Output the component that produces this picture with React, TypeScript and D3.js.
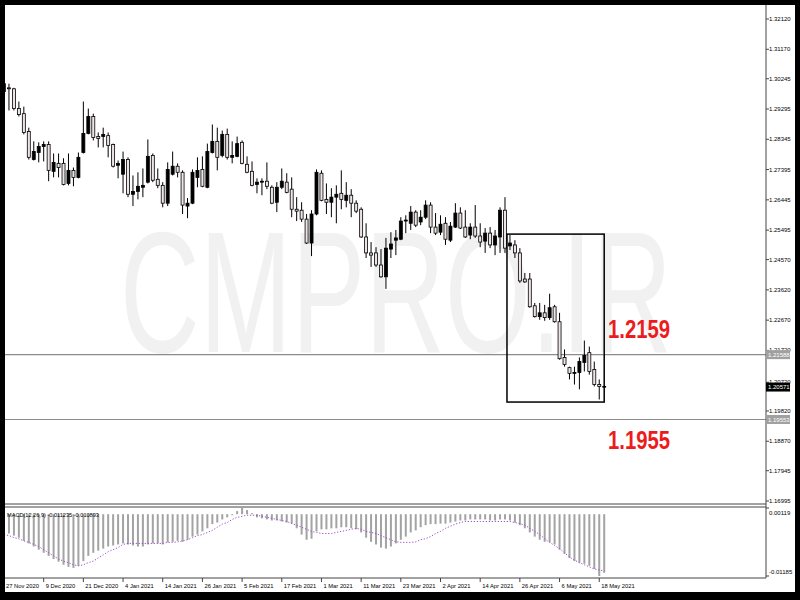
import * as d3 from 'd3';

const W = 800;
const H = 600;

// price axis labels (right side)
const priceTicks = [
  1.3212, 1.3117, 1.30245, 1.29295, 1.28345, 1.27395, 1.26445, 1.25495, 1.2457, 1.2362, 1.2267,
  1.2172, 1.2072, 1.1982, 1.1887, 1.17945, 1.16995,
];
const priceTickText = [
  '1.32120', '1.31170', '1.30245', '1.29295', '1.28345', '1.27395', '1.26445', '1.25495', '1.24570',
  '1.23620', '1.22670', '1.21720', '1.20720', '1.19820', '1.18870', '1.17945', '1.16995',
];

// one label every 8 daily bars
const dateTicks = [
  '27 Nov 2020', '9 Dec 2020', '21 Dec 2020', '4 Jan 2021', '14 Jan 2021', '26 Jan 2021', '5 Feb 2021',
  '17 Feb 2021', '1 Mar 2021', '11 Mar 2021', '23 Mar 2021', '2 Apr 2021', '14 Apr 2021', '26 Apr 2021',
  '6 May 2021', '18 May 2021',
];

const open = [
  1.3009, 1.2996, 1.2993, 1.2931, 1.2915, 1.2859, 1.2771, 1.2793, 1.2812, 1.2818,
  1.2734, 1.2759, 1.2759, 1.2696, 1.2737, 1.2715, 1.2793, 1.2853, 1.2906, 1.2843,
  1.2843, 1.2846, 1.2818, 1.2753, 1.2725, 1.2771, 1.2662, 1.2671, 1.2684, 1.27,
  1.2784, 1.2709, 1.269, 1.2634, 1.2725, 1.275, 1.2731, 1.2625, 1.2634, 1.2715,
  1.274, 1.2684, 1.2793, 1.2828, 1.2784, 1.285, 1.2778, 1.2781, 1.2825, 1.2756,
  1.2734, 1.2693, 1.27, 1.2703, 1.2684, 1.2637, 1.2684, 1.27, 1.2678, 1.2615,
  1.2612, 1.2584, 1.2509, 1.26, 1.2728, 1.2646, 1.2637, 1.2653, 1.2665, 1.2643,
  1.2659, 1.2634, 1.2615, 1.2528, 1.2478, 1.2478, 1.244, 1.2403, 1.249, 1.2518,
  1.2521, 1.2578, 1.2571, 1.2606, 1.2575, 1.259, 1.2628, 1.2559, 1.2543, 1.2571,
  1.2518, 1.2559, 1.2603, 1.2559, 1.2534, 1.2559, 1.2531, 1.2515, 1.254, 1.2503,
  1.2528, 1.2612, 1.25, 1.2503, 1.2478, 1.2396, 1.2396, 1.2312, 1.2278, 1.229,
  1.2275, 1.2309, 1.2262, 1.215, 1.2118, 1.21, 1.2103, 1.2134, 1.2165, 1.2112,
  1.2065, 1.2059,
];
const high = [
  1.3018, 1.3009, 1.2996, 1.2953, 1.2937, 1.2871, 1.2828, 1.2825, 1.2828, 1.2828,
  1.279, 1.279, 1.2775, 1.279, 1.2746, 1.2793, 1.2953, 1.2931, 1.2915, 1.2856,
  1.2871, 1.2856, 1.2821, 1.2768, 1.2796, 1.2778, 1.2721, 1.2731, 1.2743, 1.2834,
  1.279, 1.2743, 1.27, 1.2762, 1.2796, 1.2759, 1.2737, 1.265, 1.274, 1.2778,
  1.2781, 1.2821, 1.2881, 1.2871, 1.2862, 1.2868, 1.2828, 1.2843, 1.2831, 1.2781,
  1.2765, 1.2712, 1.2712, 1.2762, 1.269, 1.27, 1.2743, 1.2728, 1.2715, 1.2653,
  1.2637, 1.26, 1.2612, 1.274, 1.2737, 1.2696, 1.2681, 1.269, 1.2737, 1.27,
  1.2678, 1.2643, 1.2621, 1.2571, 1.2512, 1.2496, 1.249, 1.2525, 1.2543, 1.255,
  1.259, 1.2596, 1.2625, 1.2612, 1.2612, 1.2643, 1.2637, 1.2603, 1.2596, 1.259,
  1.2575, 1.2634, 1.2621, 1.2612, 1.2571, 1.2628, 1.2571, 1.2556, 1.2559, 1.255,
  1.2621, 1.2653, 1.2534, 1.2518, 1.2493, 1.2415, 1.2415, 1.2321, 1.2321, 1.2315,
  1.235, 1.2315, 1.229, 1.2175, 1.2121, 1.2121, 1.215, 1.2203, 1.2184, 1.2137,
  1.2081, 1.2062,
];
const low = [
  1.2971, 1.2925, 1.2925, 1.2906, 1.285, 1.2771, 1.2768, 1.2762, 1.2765, 1.2703,
  1.2715, 1.2715, 1.269, 1.269, 1.2687, 1.2712, 1.279, 1.285, 1.2831, 1.2809,
  1.2809, 1.2778, 1.2746, 1.2712, 1.2665, 1.2653, 1.2625, 1.2646, 1.2653, 1.2696,
  1.27, 1.2681, 1.2621, 1.2625, 1.2721, 1.2715, 1.26, 1.2587, 1.2631, 1.2684,
  1.2684, 1.2681, 1.279, 1.2737, 1.2778, 1.2771, 1.2759, 1.2778, 1.2756, 1.2728,
  1.2687, 1.2665, 1.2659, 1.2678, 1.2631, 1.2606, 1.2678, 1.2665, 1.259, 1.2578,
  1.2575, 1.2506, 1.2468, 1.2596, 1.264, 1.26, 1.259, 1.2571, 1.2615, 1.2621,
  1.259, 1.2603, 1.2525, 1.2462, 1.2434, 1.2434, 1.24, 1.2365, 1.2462, 1.2471,
  1.2518, 1.254, 1.255, 1.2559, 1.2565, 1.2584, 1.254, 1.2534, 1.2534, 1.2503,
  1.2512, 1.2556, 1.2553, 1.2525, 1.2521, 1.2525, 1.2496, 1.2478, 1.2493, 1.2471,
  1.2478, 1.2478, 1.2487, 1.2462, 1.2384, 1.2384, 1.2306, 1.2275, 1.2268, 1.2265,
  1.2268, 1.2259, 1.2143, 1.2121, 1.2081, 1.2065, 1.205, 1.2106, 1.2096, 1.2059,
  1.2018, 1.2056,
];
const close = [
  1.2984, 1.2993, 1.2931, 1.2912, 1.2856, 1.2778, 1.2796, 1.2812, 1.2818, 1.2737,
  1.2762, 1.2746, 1.2693, 1.2737, 1.2715, 1.2778, 1.2853, 1.2906, 1.284, 1.2837,
  1.285, 1.2815, 1.275, 1.2759, 1.2771, 1.2662, 1.2671, 1.2687, 1.269, 1.2781,
  1.2706, 1.269, 1.2634, 1.274, 1.275, 1.2731, 1.2628, 1.2634, 1.2731, 1.2737,
  1.2687, 1.2796, 1.2828, 1.2778, 1.285, 1.2778, 1.2784, 1.2821, 1.2759, 1.2731,
  1.269, 1.27, 1.2703, 1.2687, 1.2634, 1.2684, 1.2703, 1.2668, 1.2615, 1.2609,
  1.2584, 1.2509, 1.26, 1.2731, 1.2643, 1.2637, 1.2653, 1.2662, 1.2646, 1.2659,
  1.2634, 1.2609, 1.2528, 1.2478, 1.2471, 1.244, 1.2403, 1.2493, 1.2506, 1.2525,
  1.2578, 1.2581, 1.2606, 1.2565, 1.259, 1.2628, 1.2559, 1.254, 1.2568, 1.2521,
  1.2562, 1.2603, 1.2556, 1.2528, 1.2559, 1.2531, 1.2512, 1.254, 1.2503, 1.2531,
  1.2612, 1.2493, 1.2509, 1.2478, 1.239, 1.2387, 1.2309, 1.2278, 1.229, 1.2275,
  1.2306, 1.2262, 1.2146, 1.2128, 1.21, 1.2103, 1.2137, 1.2156, 1.2106, 1.2065,
  1.2059, 1.20571,
];

// MACD(12,26,9): main values (histogram) and dotted signal
const macdMain = [
  -0.0035, -0.0037, -0.0041, -0.0045, -0.0051, -0.0056, -0.0062, -0.0068, -0.0074, -0.008,
  -0.0086, -0.0091, -0.0097, -0.0101, -0.0103, -0.0099, -0.009, -0.008, -0.0074, -0.007,
  -0.0066, -0.0062, -0.006, -0.0058, -0.0056, -0.0058, -0.006, -0.0062, -0.0062, -0.0058,
  -0.0056, -0.0056, -0.0058, -0.0054, -0.0053, -0.0051, -0.0053, -0.0049, -0.0043, -0.0039,
  -0.0033, -0.0027, -0.0019, -0.0016, -0.001, -0.0006, -0.0002, 0.0006, 0.0012, 0.0008,
  0.0002, -0.0006, -0.0008, -0.001, -0.0012, -0.0012, -0.0014, -0.0016, -0.0018, -0.0027,
  -0.0039, -0.0049, -0.0047, -0.0033, -0.0029, -0.0029, -0.0027, -0.0027, -0.0025, -0.0025,
  -0.0027, -0.0029, -0.0035, -0.0045, -0.0053, -0.0058, -0.0064, -0.0066, -0.0062, -0.0056,
  -0.0049, -0.0043, -0.0035, -0.0031, -0.0025, -0.0021, -0.0019, -0.0019, -0.0018, -0.0018,
  -0.0016, -0.0014, -0.0012, -0.0012, -0.001, -0.001, -0.001, -0.001, -0.0012, -0.0012,
  -0.001, -0.001, -0.0012, -0.0016, -0.0021, -0.0027, -0.0035, -0.0043, -0.0049, -0.0053,
  -0.0054, -0.0058, -0.0068, -0.0076, -0.0084, -0.009, -0.0093, -0.0095, -0.0099, -0.0105,
  -0.01185, -0.011235,
];
const macdSignal = [
  -0.0039, -0.0041, -0.0045, -0.0047, -0.0051, -0.0054, -0.0058, -0.0062, -0.0068, -0.0074,
  -0.008, -0.0086, -0.009, -0.0093, -0.0097, -0.0099, -0.0097, -0.0093, -0.009, -0.0084,
  -0.0078, -0.0072, -0.0068, -0.0064, -0.0058, -0.0056, -0.0056, -0.0056, -0.0056, -0.0056,
  -0.0056, -0.0056, -0.0056, -0.0054, -0.0054, -0.0053, -0.0051, -0.0049, -0.0045, -0.0041,
  -0.0039, -0.0035, -0.0031, -0.0025, -0.0019, -0.0016, -0.001, -0.0006, -0.0004, -0.0002,
  -0.0002, -0.0002, -0.0004, -0.0006, -0.0008, -0.001, -0.0012, -0.0014, -0.0018, -0.0021,
  -0.0025, -0.0029, -0.0033, -0.0035, -0.0037, -0.0037, -0.0037, -0.0035, -0.0033, -0.0031,
  -0.0029, -0.0027, -0.0029, -0.0033, -0.0035, -0.0037, -0.0041, -0.0045, -0.0049, -0.0053,
  -0.0054, -0.0054, -0.0054, -0.0053, -0.0049, -0.0047, -0.0043, -0.0037, -0.0033, -0.0027,
  -0.0023, -0.0019, -0.0016, -0.0014, -0.0014, -0.0014, -0.0014, -0.0014, -0.0014, -0.0014,
  -0.0014, -0.0014, -0.0014, -0.0016, -0.0018, -0.0021, -0.0027, -0.0033, -0.0039, -0.0047,
  -0.0054, -0.006, -0.0066, -0.0074, -0.0082, -0.0088, -0.0093, -0.0097, -0.0101, -0.0105,
  -0.0107, -0.010893,
];
const macdRange = [-0.01185, 0.00119];
const macdLabel = 'MACD(12,26,9) -0.011235 -0.010893';

// horizontal levels, current price and the drawn box
const levels = [1.21588, 1.19553];
const levelText = ['1.2159', '1.1955'];
const lastPrice = 1.20571;
const boxBars = [101.4, 121];
const boxPrices = [1.201, 1.2537];
const watermark = 'CMPRO.IR';

export default function App() {
  const left = 5;
  const top = 5;
  const plotRight = 766;
  const mainBottom = 504;
  const macdTop = 507;
  const macdBottom = 578;

  const n = open.length;
  const x = d3.scaleLinear().domain([0, 121]).range([4, 604.2]);
  const y = d3.scaleLinear().domain([1.16995, 1.3212]).range([501, 19]);
  const ym = d3.scaleLinear().domain(macdRange).range([576, 508]);

  const signalLine = d3
    .line<number>()
    .x((_, i) => x(i))
    .y((d) => ym(d));

  const font = "'Liberation Sans', Arial, sans-serif";
  const idx = d3.range(n);

  return (
    <svg
      width={W}
      height={H}
      style={{ position: 'absolute', left: 0, top: 0, display: 'block' }}
    >
      <rect x={0} y={0} width={W} height={H} fill="#fff" />

      {/* watermark */}
      <text
        x={120}
        y={352}
        fontSize={172}
        fontFamily={font}
        textLength={552}
        lengthAdjust="spacingAndGlyphs"
        fill="#f1f1f1"
      >
        {watermark}
      </text>

      {/* level lines */}
      {levels.map((v) => (
        <line key={v} x1={left} x2={plotRight} y1={y(v)} y2={y(v)} stroke="#8c8c8c" strokeWidth={1.2} />
      ))}

      {/* candles */}
      {idx.map((i) => {
        const cx = x(i);
        const up = close[i] > open[i];
        const yTop = y(Math.max(open[i], close[i]));
        const yBot = y(Math.min(open[i], close[i]));
        const h = Math.max(yBot - yTop, 0.8);
        return (
          <g key={i}>
            <line x1={cx} x2={cx} y1={y(high[i])} y2={y(low[i])} stroke="#000" strokeWidth={1} />
            <rect
              x={cx - 1.5}
              y={yTop}
              width={3}
              height={h}
              fill={up ? '#000' : '#efe4e4'}
              stroke="#000"
              strokeWidth={0.8}
            />
          </g>
        );
      })}

      {/* box annotation */}
      <rect
        x={x(boxBars[0])}
        y={y(boxPrices[1])}
        width={x(boxBars[1]) - x(boxBars[0])}
        height={y(boxPrices[0]) - y(boxPrices[1])}
        fill="none"
        stroke="#000"
        strokeWidth={1.5}
      />

      {/* red level labels */}
      <text x={608} y={y(levels[0]) - 17} fontSize={26} fontWeight="bold" fontFamily={font}
        textLength={62} lengthAdjust="spacingAndGlyphs" fill="#ec1c1c">
        {levelText[0]}
      </text>
      <text x={608} y={y(levels[1]) + 30} fontSize={26} fontWeight="bold" fontFamily={font}
        textLength={62} lengthAdjust="spacingAndGlyphs" fill="#ec1c1c">
        {levelText[1]}
      </text>

      {/* MACD panel */}
      {idx.map((i) => {
        const v = macdMain[i];
        const y0 = ym(0);
        const y1 = ym(v);
        return (
          <rect
            key={'m' + i}
            x={x(i) - 1}
            y={Math.min(y0, y1)}
            width={2}
            height={Math.max(Math.abs(y1 - y0), 0.6)}
            fill="#a3a3a3"
          />
        );
      })}
      <path
        d={signalLine(macdSignal) ?? ''}
        fill="none"
        stroke="#a24ad0"
        strokeWidth={1}
        strokeDasharray="1.2 1.8"
      />
      <text x={7} y={517} fontSize={5.6} fontFamily={font} fill="#000">
        {macdLabel}
      </text>

      {/* frames */}
      <line x1={left} x2={plotRight} y1={mainBottom} y2={mainBottom} stroke="#444" />
      <line x1={left} x2={plotRight} y1={macdTop} y2={macdTop} stroke="#444" />
      <line x1={left} x2={plotRight} y1={macdBottom} y2={macdBottom} stroke="#444" />
      <line x1={plotRight} x2={plotRight} y1={top} y2={macdBottom} stroke="#444" />

      {/* price axis */}
      {priceTicks.map((v, k) => (
        <g key={'p' + k}>
          <line x1={plotRight} x2={plotRight + 3} y1={y(v)} y2={y(v)} stroke="#444" />
          <text x={plotRight + 3} y={y(v) + 2} fontSize={6} fontFamily={font} fill="#000">
            {priceTickText[k]}
          </text>
        </g>
      ))}
      {levels.map((v) => (
        <g key={'b' + v}>
          <rect x={plotRight} y={y(v) - 4.5} width={24} height={9} fill="#a0a0a0" />
          <text x={plotRight + 2} y={y(v) + 2.2} fontSize={6} fontFamily={font} fill="#fff">
            {v.toFixed(5)}
          </text>
        </g>
      ))}
      <rect x={plotRight} y={y(lastPrice) - 4.5} width={24} height={9} fill="#000" />
      <text x={plotRight + 2} y={y(lastPrice) + 2.2} fontSize={6} fontFamily={font} fill="#fff">
        {lastPrice.toFixed(5)}
      </text>

      {/* MACD axis */}
      <line x1={plotRight} x2={plotRight + 3} y1={ym(macdRange[1])} y2={ym(macdRange[1])} stroke="#444" />
      <text x={plotRight + 3} y={ym(macdRange[1]) + 7} fontSize={6} fontFamily={font}>
        {macdRange[1].toFixed(5)}
      </text>
      <line x1={plotRight} x2={plotRight + 3} y1={ym(macdRange[0])} y2={ym(macdRange[0])} stroke="#444" />
      <text x={plotRight + 3} y={ym(macdRange[0]) - 2} fontSize={6} fontFamily={font}>
        {macdRange[0].toFixed(5)}
      </text>

      {/* time axis */}
      {dateTicks.map((t, k) => (
        <g key={'t' + k}>
          <line x1={x(k * 8)} x2={x(k * 8)} y1={macdBottom} y2={macdBottom + 4} stroke="#444" />
          <text x={x(k * 8) + 2} y={588} fontSize={5.8} fontFamily={font} fill="#000">
            {t}
          </text>
        </g>
      ))}

      {/* outer black border */}
      <rect x={0} y={0} width={W} height={top} fill="#000" />
      <rect x={0} y={0} width={left} height={H} fill="#000" />
      <rect x={795} y={0} width={5} height={H} fill="#000" />
      <rect x={0} y={592} width={W} height={8} fill="#000" />
    </svg>
  );
}
